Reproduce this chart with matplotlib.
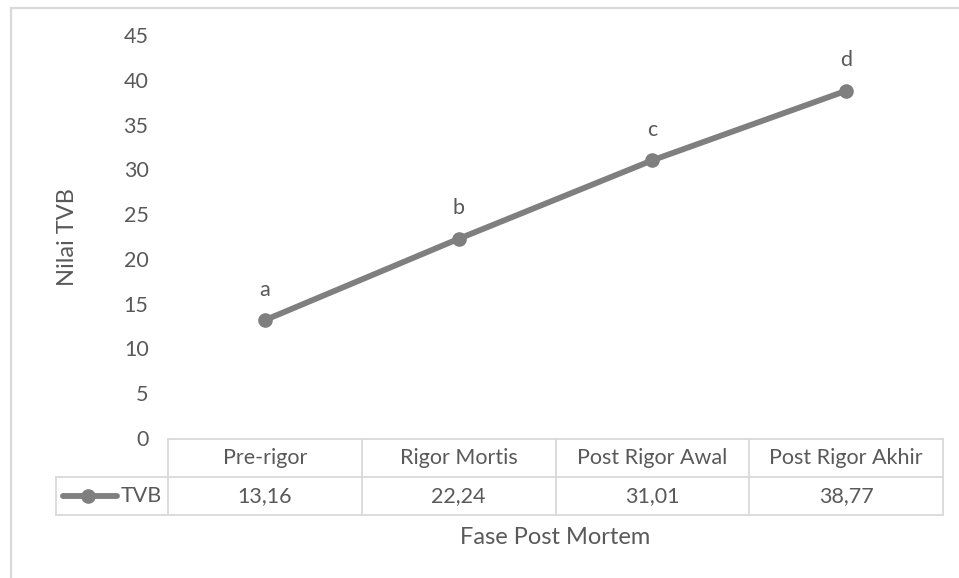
import matplotlib
matplotlib.use("Agg")
import matplotlib.pyplot as plt
from matplotlib.lines import Line2D
from matplotlib.transforms import blended_transform_factory

categories = ["Pre-rigor", "Rigor Mortis", "Post Rigor Awal", "Post Rigor Akhir"]
tvb = [13.16, 22.24, 31.01, 38.77]
tvb_labels = ["13,16", "22,24", "31,01", "38,77"]
letters = ["a", "b", "c", "d"]
series_name = "TVB"
yticks = [0, 5, 10, 15, 20, 25, 30, 35, 40, 45]
ylabel = "Nilai TVB"
xlabel = "Fase Post Mortem"

plt.rcParams['font.family'] = ['Lato', 'DejaVu Sans']
TXT = '#595959'
LINE = '#7f7f7f'
GRID = '#d9d9d9'
FS = 15.5
FT = 17

W, H = 959, 578
fig = plt.figure(figsize=(W / 100, H / 100), dpi=100)
fig.patch.set_facecolor('white')

def fx(px):
    return px / W

def fy(py):
    return 1 - py / H

ax = fig.add_axes([fx(168), fy(438), (943 - 168) / W, (438 - 35) / H])
ax.set_xlim(-0.5, len(categories) - 0.5)
ax.set_ylim(0, 45)
for s in ax.spines.values():
    s.set_visible(False)
ax.set_xticks([])
ax.set_yticks(yticks)
ax.tick_params(axis='y', length=0, pad=14, labelsize=FS, labelcolor=TXT)
ax.patch.set_alpha(0)

x = list(range(len(categories)))
ax.plot(x, tvb, color=LINE, lw=4.2, marker='o', ms=9.5, solid_capstyle='round', zorder=3)
for i, (v, l) in enumerate(zip(tvb, letters)):
    ax.annotate(l, (i, v), xytext=(0, 22), textcoords='offset points',
                ha='center', va='center', fontsize=FS, color=TXT)

# data table
tr = blended_transform_factory(ax.transData, fig.transFigure)
n = len(categories)
y_top, y_mid, y_bot = fy(439), fy(477), fy(515)
lw_t = 1.3
left_cell = fx(56)
fig.add_artist(Line2D([-0.5, n - 0.5], [y_top, y_top], transform=tr, color=GRID, lw=lw_t))
for yy in (y_mid, y_bot):
    fig.add_artist(Line2D([left_cell, fx(943)], [yy, yy], transform=fig.transFigure, color=GRID, lw=lw_t))
for k in range(n + 1):
    fig.add_artist(Line2D([k - 0.5, k - 0.5], [y_top, y_bot], transform=tr, color=GRID, lw=lw_t))
fig.add_artist(Line2D([left_cell, left_cell], [y_mid, y_bot], transform=fig.transFigure, color=GRID, lw=lw_t))

for i, (c, t) in enumerate(zip(categories, tvb_labels)):
    fig.text(i, (y_top + y_mid) / 2, c, transform=tr, ha='center', va='center', fontsize=FS, color=TXT)
    fig.text(i, (y_mid + y_bot) / 2, t, transform=tr, ha='center', va='center', fontsize=FS, color=TXT)

# legend key in the row header cell
ky = (y_mid + y_bot) / 2
fig.add_artist(Line2D([fx(63), fx(117)], [ky, ky], transform=fig.transFigure, color=LINE, lw=4.2,
                      solid_capstyle='round'))
fig.add_artist(Line2D([fx(88)], [ky], transform=fig.transFigure, color=LINE, marker='o', ms=9.5, lw=0))
fig.text(fx(121), ky, series_name, ha='left', va='center', fontsize=FS, color=TXT)

# axis titles
fig.text(fx(555.5), fy(537), xlabel, ha='center', va='center', fontsize=FT, color=TXT)
fig.text(fx(68), fy(237), ylabel, ha='center', va='center', rotation=90, fontsize=FT, color=TXT)

# chart border
fig.add_artist(Line2D([fx(11), 1.0], [fy(8), fy(8)], transform=fig.transFigure, color=GRID, lw=1.6))
fig.add_artist(Line2D([fx(11), fx(11)], [fy(8), 0.0], transform=fig.transFigure, color=GRID, lw=1.6))

fig.savefig('out.png', dpi=100, facecolor='white')
